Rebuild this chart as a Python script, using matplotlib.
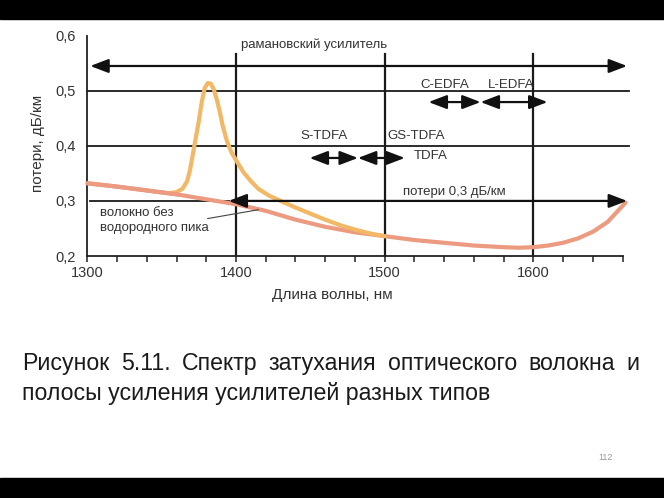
import matplotlib
matplotlib.use("Agg")
import matplotlib.pyplot as plt
from matplotlib.patches import Rectangle
from matplotlib.ticker import FixedLocator, FuncFormatter

# Data
base_wl = [1300, 1320, 1340, 1360, 1380, 1400, 1420, 1440, 1460, 1480, 1500,
           1520, 1540, 1560, 1580, 1590, 1600, 1610, 1620, 1630, 1640, 1650, 1662]
base_loss = [0.332, 0.326, 0.319, 0.312, 0.303, 0.294, 0.282, 0.266, 0.253, 0.243, 0.236,
             0.229, 0.224, 0.219, 0.216, 0.215, 0.216, 0.219, 0.224, 0.232, 0.244, 0.262, 0.297]

peak_wl = [1355, 1360, 1364, 1367, 1369, 1371, 1373, 1375, 1377, 1379, 1381, 1383, 1385,
           1387, 1389, 1391, 1394, 1397, 1400, 1405, 1410, 1415, 1422, 1430, 1440, 1450,
           1460, 1470, 1480, 1490, 1500]
peak_loss = [0.314, 0.316, 0.322, 0.335, 0.355, 0.385, 0.415, 0.445, 0.480, 0.505, 0.514,
             0.513, 0.503, 0.485, 0.463, 0.437, 0.408, 0.388, 0.374, 0.352, 0.336, 0.322,
             0.310, 0.300, 0.288, 0.277, 0.266, 0.256, 0.248, 0.241, 0.236]

# amplifier bands: (label, start, end)
bands_top = [("C-EDFA", 1529.5, 1564.5), ("L-EDFA", 1564.5, 1609.5)]
bands_mid = [("S-TDFA", 1449.5, 1482), ("GS-TDFA", 1482, 1513.5)]
raman_band = (1302, 1663)
loss_band = (1395, 1663)

x_ticks = [1300, 1400, 1500, 1600]
y_ticks = [0.2, 0.3, 0.4, 0.5, 0.6]

caption1 = "Рисунок 5.11. Спектр затухания оптического волокна и"
caption2 = "полосы усиления усилителей разных типов"

plt.rcParams["font.family"] = ["Liberation Sans", "DejaVu Sans"]

W, H = 664, 498
fig = plt.figure(figsize=(W / 100, H / 100), dpi=100)
fig.patch.set_facecolor("white")

# black bands of the slide frame
fig.add_artist(Rectangle((0, 1 - 19 / H), 1, 19 / H, transform=fig.transFigure,
                         color="black", zorder=0))
fig.add_artist(Rectangle((0, 0), 1, 20 / H, transform=fig.transFigure,
                         color="black", zorder=0))

ax = fig.add_axes([87.3 / W, 1 - 256 / H, (622.6 - 87.3) / W, (256 - 35.7) / H])
ax.set_xlim(1300, 1660)
ax.set_ylim(0.2, 0.6)

txt = "#333333"
for s in ["top", "right"]:
    ax.spines[s].set_visible(False)
for s in ["left", "bottom"]:
    ax.spines[s].set_linewidth(1.3)
    ax.spines[s].set_color("#222222")

ax.xaxis.set_major_locator(FixedLocator(x_ticks))
ax.xaxis.set_minor_locator(FixedLocator(list(range(1300, 1661, 20))))
ax.yaxis.set_major_locator(FixedLocator(y_ticks))
ax.yaxis.set_major_formatter(FuncFormatter(lambda v, p: f"{v:.1f}".replace(".", ",")))
ax.tick_params(axis="x", which="both", direction="out", length=4, width=1.1,
               color="#222222", labelsize=10.5, labelcolor=txt, pad=3)
ax.tick_params(axis="y", length=0, labelsize=10.5, labelcolor=txt, pad=8)

# grid-like horizontal and vertical lines
for y in [0.5, 0.4]:
    ax.plot([1300, 1664.5], [y, y], color="#1a1a1a", lw=1.3, clip_on=False, zorder=2)
ax.plot([1302, loss_band[0]], [0.3, 0.3], color="#1a1a1a", lw=1.3, zorder=2)
for x in [1400, 1500, 1600]:
    ax.plot([x, x], [0.2, 0.567], color="#1a1a1a", lw=1.6, clip_on=False, zorder=2)

# curves
ax.plot(base_wl, base_loss, color="#ec9a80", lw=3.0, solid_capstyle="round",
        clip_on=False, zorder=3)
ax.plot(peak_wl, peak_loss, color="#f2b865", lw=3.0, solid_capstyle="round",
        solid_joinstyle="round", zorder=3)
ax.plot(base_wl[:4], base_loss[:4], color="#ec9a80", lw=3.0, zorder=3.5)


def arrow(x0, x1, y):
    ax.annotate("", xy=(x1, y), xytext=(x0, y), annotation_clip=False,
                arrowprops=dict(arrowstyle="<|-|>,head_length=1.1,head_width=0.42",
                                mutation_scale=10, color="#111111", lw=1.6,
                                shrinkA=0, shrinkB=0), zorder=4)


arrow(raman_band[0], raman_band[1], 0.545)
arrow(loss_band[0], loss_band[1], 0.3)
for lab, a, b in bands_top:
    arrow(a, b, 0.4795)
for lab, a, b in bands_mid:
    arrow(a, b, 0.378)

fs = 9.5
ax.text(1452.7, 0.583, "рамановский усилитель", ha="center", va="center",
        fontsize=fs, color=txt)
ax.text(1540.4, 0.511, "C-EDFA", ha="center", va="center", fontsize=fs, color=txt)
ax.text(1585.2, 0.511, "L-EDFA", ha="center", va="center", fontsize=fs, color=txt)
ax.text(1459.3, 0.4175, "S-TDFA", ha="center", va="center", fontsize=fs, color=txt)
ax.text(1521.3, 0.4175, "GS-TDFA", ha="center", va="center", fontsize=fs, color=txt)
ax.text(1519.5, 0.381, "TDFA", ha="left", va="center", fontsize=fs, color=txt)
ax.text(1547, 0.317, "потери 0,3 дБ/км", ha="center", va="center", fontsize=fs, color=txt)
ax.text(1308.5, 0.278, "волокно без", ha="left", va="center", fontsize=fs, color=txt)
ax.text(1308.5, 0.251, "водородного пика", ha="left", va="center", fontsize=fs, color=txt)
ax.plot([1381, 1415], [0.268, 0.284], color="#444444", lw=0.8, zorder=4)

fig.text(38 / W, 1 - 143 / H, "потери, дБ/км", rotation=90, ha="center", va="center",
         fontsize=11, color=txt)
fig.text(332 / W, 1 - 295 / H, "Длина волны, нм", ha="center", va="center",
         fontsize=11, color=txt)

# caption: first line justified, second line left aligned
cap_fs = 16.7
renderer = fig.canvas.get_renderer()
x_left, x_right = 22, 639
words = caption1.split()
tobjs = [fig.text(0, 1 - 370 / H, w, fontsize=cap_fs, color="#1a1a1a",
                  ha="left", va="baseline") for w in words]
widths = [t.get_window_extent(renderer).width for t in tobjs]
gap = (x_right - x_left - sum(widths)) / (len(words) - 1)
xp = x_left
for t, w in zip(tobjs, widths):
    t.set_x(xp / W)
    xp += w + gap
fig.text(x_left / W, 1 - 400 / H, caption2, fontsize=cap_fs, color="#1a1a1a",
         ha="left", va="baseline")
fig.text(606 / W, 1 - 457 / H, "112", fontsize=6.5, color="#9a9a9a", ha="center", va="center")

fig.savefig("out.png", dpi=100)
